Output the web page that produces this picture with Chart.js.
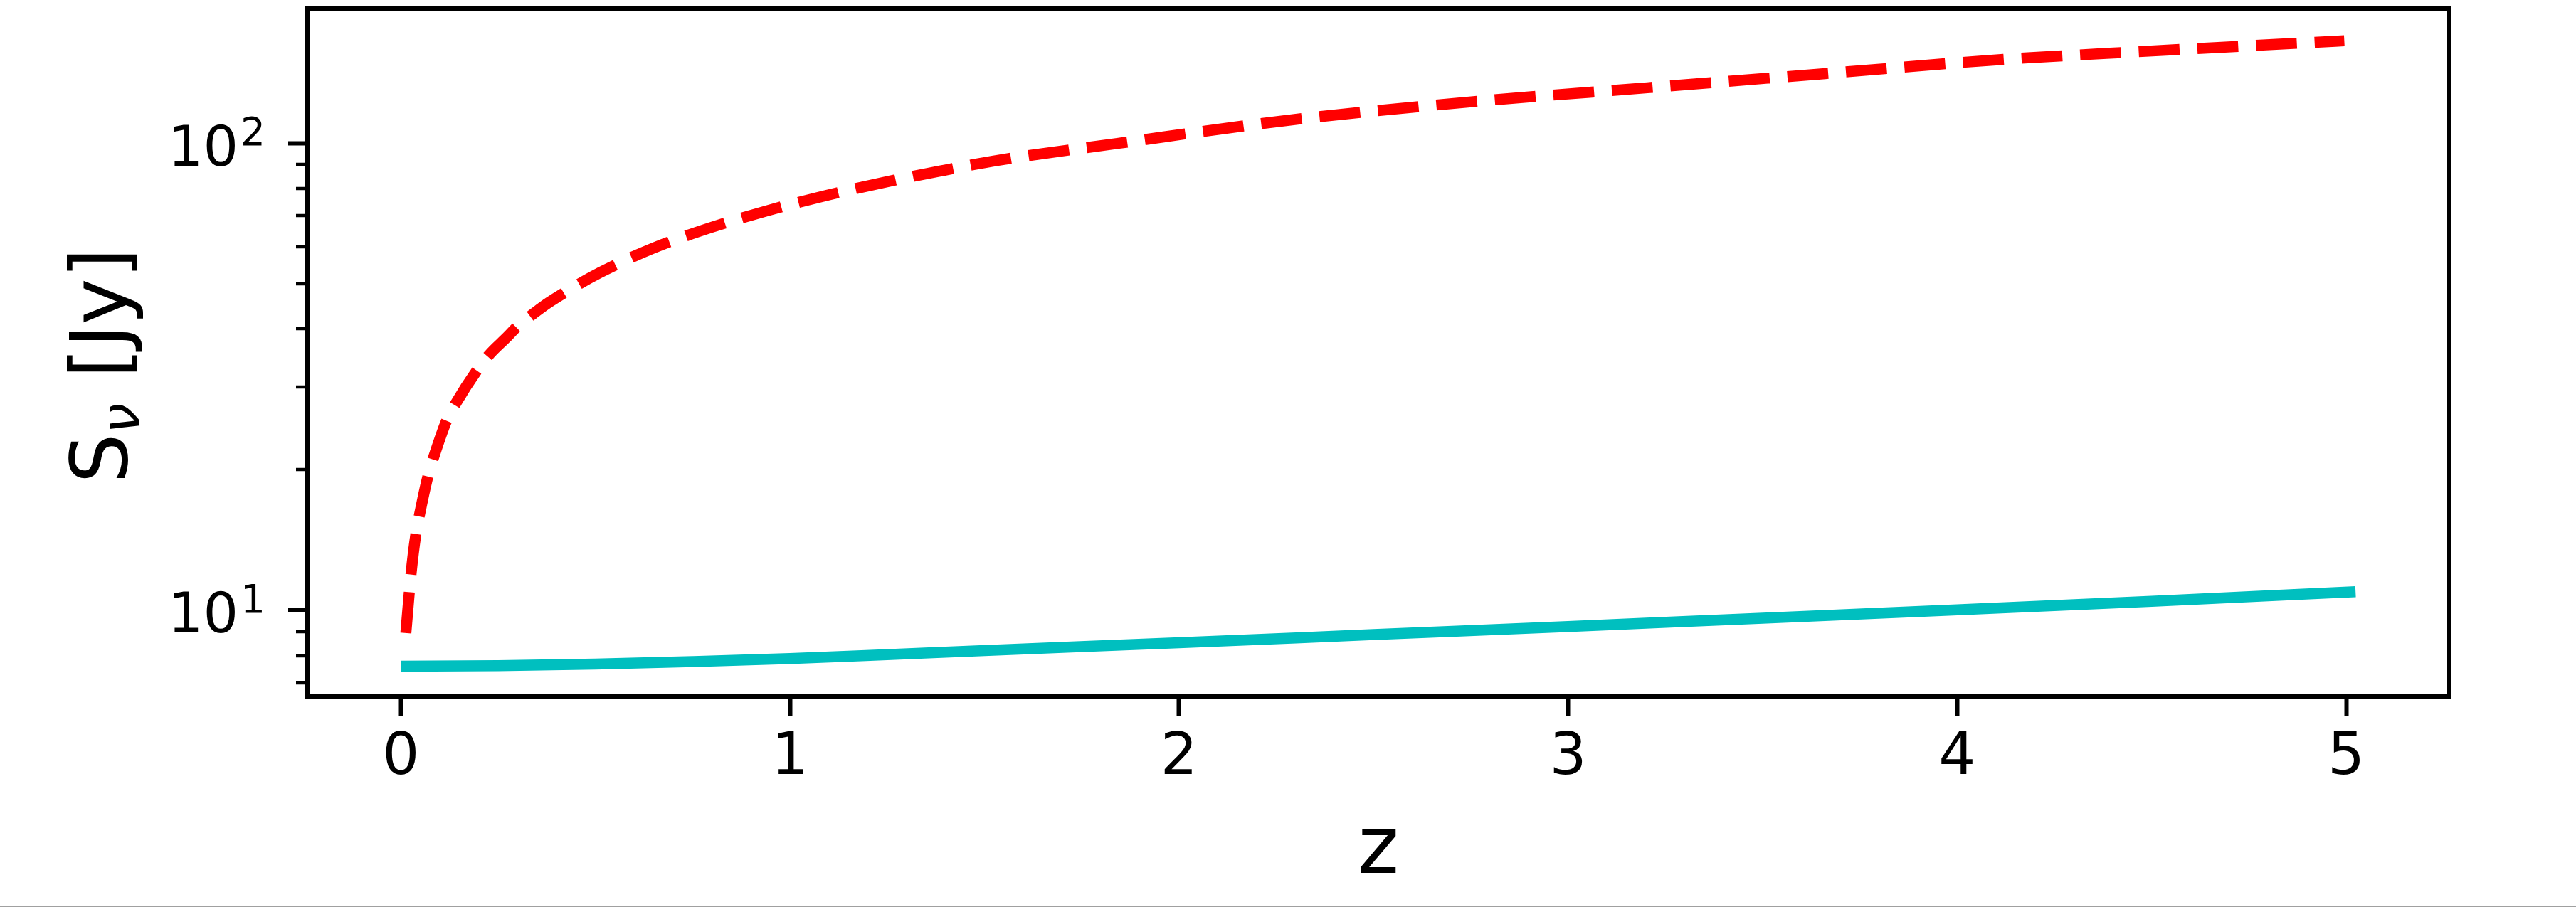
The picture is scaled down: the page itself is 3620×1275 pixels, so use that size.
<!DOCTYPE html>
<html>
<head>
<meta charset="utf-8">
<script src="https://cdn.jsdelivr.net/npm/chart.js@4"></script>
<style>
  html, body { margin: 0; padding: 0; background: #fff; }
  #wrap { position: relative; width: 3620px; height: 1275px; }
  #edge { position: absolute; left: 0; top: 1274px; width: 3620px; height: 1px; background: #a0a0a0; }
</style>
</head>
<body>
<div id="wrap">
  <canvas id="chart" width="3620" height="1275"></canvas>
  <div id="edge"></div>
</div>
<script>
// redshift samples and flux density
const redZ = [0.013, 0.026, 0.039, 0.048, 0.07, 0.084, 0.119, 0.141, 0.199, 0.228, 0.274, 0.302, 0.339, 0.381,
  0.512, 0.652, 0.796, 0.941, 1.09, 1.24, 1.389, 1.538, 1.842, 2.29, 2.747, 3.204, 3.661, 4.119, 4.384, 4.722, 4.995];
const redS = [8.94, 11.9, 14.6, 16.0, 19.4, 21.2, 25.6, 27.7, 32.9, 35.3, 38.5, 40.7, 43.0, 45.6,
  52.8, 59.7, 65.9, 71.6, 77.1, 82.3, 87.2, 91.9, 99.8, 112.1, 122.4, 131.3, 140.8, 151, 155.5, 161, 165.5];

const cyanZ = [0, 0.25, 0.5, 0.75, 1.0, 1.25, 1.5, 2.0, 2.5, 3.0, 3.5, 4.0, 4.5, 5.024];
const cyanS = [7.59, 7.61, 7.67, 7.765, 7.88, 8.035, 8.2, 8.52, 8.87, 9.23, 9.62, 10.02, 10.45, 10.96];

const xTicks = [0, 1, 2, 3, 4, 5];
const yTicks = [7, 8, 9, 10, 20, 30, 40, 50, 60, 70, 80, 90, 100];
const yMajor = [10, 100];

const FONT = "'DejaVu Sans', sans-serif";

const toPoints = (xs, ys) => xs.map((x, i) => ({ x: x, y: ys[i] }));

// spines, minor ticks, y tick labels and axis titles
const framePlugin = {
  id: "frame",
  afterDraw(chart) {
    const ctx = chart.ctx;
    const area = chart.chartArea;
    const y = chart.scales.y;

    ctx.save();
    ctx.strokeStyle = "#000";

    // minor ticks on the log axis
    ctx.lineWidth = 4.5;
    y.ticks.forEach(t => {
      if (yMajor.includes(t.value)) return;
      const py = Math.round(y.getPixelForValue(t.value));
      ctx.beginPath();
      ctx.moveTo(area.left - 16, py);
      ctx.lineTo(area.left, py);
      ctx.stroke();
    });

    // frame
    ctx.lineWidth = 6;
    ctx.strokeRect(area.left, area.top, area.right - area.left, area.bottom - area.top);

    // y tick labels 10^n
    ctx.fillStyle = "#000";
    ctx.textBaseline = "alphabetic";
    ctx.textAlign = "left";
    yMajor.forEach(v => {
      const py = y.getPixelForValue(v);
      const exp = String(Math.round(Math.log10(v)));
      ctx.font = "78px " + FONT;
      const w1 = ctx.measureText("10").width;
      ctx.font = "55px " + FONT;
      const w2 = ctx.measureText(exp).width;
      const x0 = area.left - 62 - w1 - w2;
      ctx.font = "78px " + FONT;
      ctx.fillText("10", x0, py + 31.5);
      ctx.font = "55px " + FONT;
      ctx.fillText(exp, x0 + w1 + 3, py + 3);
    });

    // x title
    ctx.font = "110px " + FONT;
    ctx.textAlign = "center";
    ctx.fillText("z", (area.left + area.right) / 2, 1227);

    // y title S_nu [Jy], rotated
    ctx.translate(178, 514);
    ctx.rotate(-Math.PI / 2);
    ctx.textAlign = "left";
    ctx.font = "110px " + FONT;
    const wS = ctx.measureText("S").width;
    const wRest = ctx.measureText(" [Jy]").width;
    ctx.font = "italic 77px " + FONT;
    const wNu = ctx.measureText("ν").width;
    let x = -(wS + wNu + wRest) / 2;
    ctx.font = "110px " + FONT;
    ctx.fillText("S", x, 0);
    x += wS;
    ctx.font = "italic 77px " + FONT;
    ctx.fillText("ν", x, 18);
    x += wNu;
    ctx.font = "110px " + FONT;
    ctx.fillText(" [Jy]", x, 0);

    ctx.restore();
  }
};

new Chart(document.getElementById("chart"), {
  type: "line",
  data: {
    datasets: [
      {
        label: "dashed",
        data: toPoints(redZ, redS),
        borderColor: "#ff0000",
        borderWidth: 15.5,
        borderDash: [57.5, 25],
        borderCapStyle: "butt",
        cubicInterpolationMode: "monotone",
        pointRadius: 0,
        fill: false,
      },
      {
        label: "solid",
        data: toPoints(cyanZ, cyanS),
        borderColor: "#00bfbf",
        borderWidth: 15.5,
        borderCapStyle: "butt",
        cubicInterpolationMode: "monotone",
        pointRadius: 0,
        fill: false,
      },
    ],
  },
  options: {
    responsive: false,
    devicePixelRatio: 1,
    animation: false,
    events: [],
    layout: { padding: { left: 0, right: 178, top: 12, bottom: 0 } },
    plugins: { legend: { display: false }, tooltip: { enabled: false } },
    scales: {
      x: {
        type: "linear",
        min: -0.24,
        max: 5.265,
        afterBuildTicks: s => { s.ticks = xTicks.map(v => ({ value: v })); },
        afterFit: s => { s.height = 296; },
        border: { display: false },
        grid: { drawOnChartArea: false, tickLength: 27, tickWidth: 6, tickColor: "#000" },
        ticks: {
          color: "#000",
          font: { family: FONT, size: 82 },
          padding: 12,
          maxRotation: 0,
          callback: v => String(v),
        },
      },
      y: {
        type: "logarithmic",
        min: 6.54,
        max: 194,
        afterBuildTicks: s => { s.ticks = yTicks.map(v => ({ value: v })); },
        afterFit: s => { s.width = 432; },
        border: { display: false },
        grid: {
          drawOnChartArea: false,
          tickLength: 27,
          tickWidth: 6,
          tickColor: c => (yMajor.includes(c.tick.value) ? "#000" : "rgba(0,0,0,0)"),
        },
        ticks: { display: false },
      },
    },
  },
  plugins: [framePlugin],
});
</script>
</body>
</html>
